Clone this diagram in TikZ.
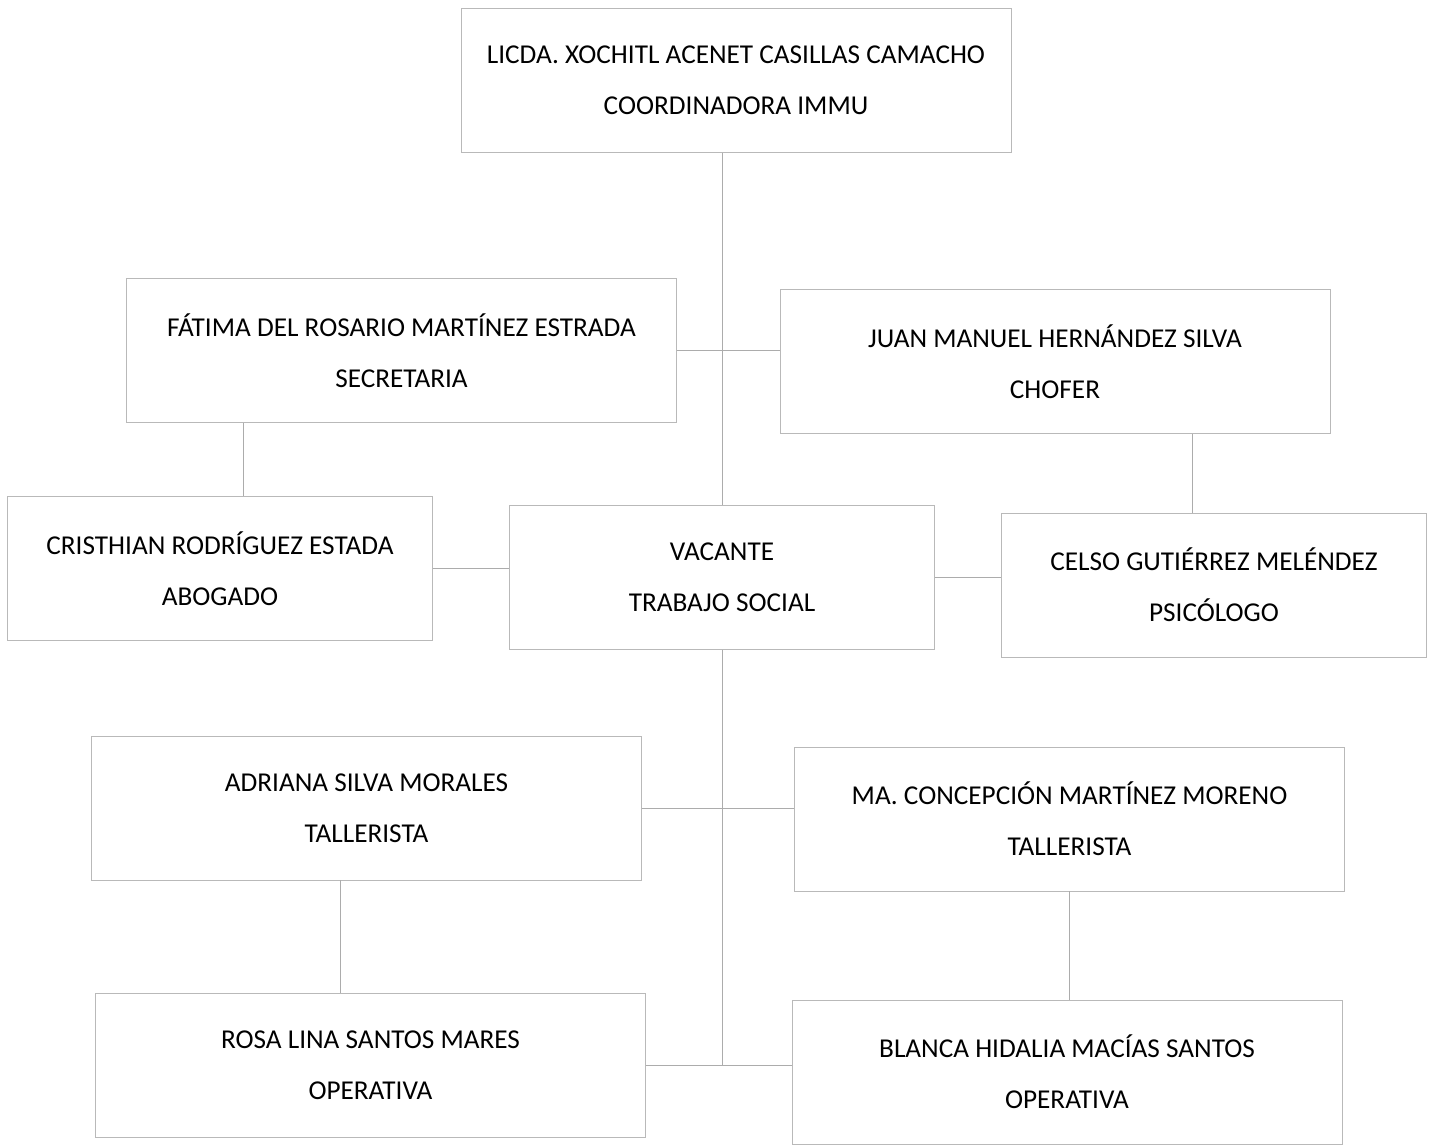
\documentclass[tikz,border=0pt]{standalone}
\usepackage{fontspec}
\setmainfont{Carlito}
\usepackage{tikz}
\usetikzlibrary{positioning}

\begin{document}
\begin{tikzpicture}[
		box/.style={rectangle,draw=gray!55,line width=0.5pt,align=center,
			minimum height=2.88cm,font=\fontsize{15.5pt}{29pt}\selectfont},
		wide/.style={box,minimum width=11cm},
		narrow/.style={box,minimum width=8.5cm},
		link/.style={draw=gray!65,line width=0.5pt}]
			\useasboundingbox (0,0) rectangle (28.72,-22.92);

			% ---------------- Top ----------------
			\node[wide] (coord) at (14.72,-1.61) {LICDA. XOCHITL ACENET CASILLAS CAMACHO\\COORDINADORA IMMU};

			% ---------------- Second level ----------------
			\node[wide] (secre) at (8.03,-7.01) {FÁTIMA DEL ROSARIO MARTÍNEZ ESTRADA\\SECRETARIA};
			\node[wide] (chofer) at (21.1,-7.23) {JUAN MANUEL HERNÁNDEZ SILVA\\CHOFER};

			% ---------------- Third level ----------------
			\node[narrow] (abog) at (4.4,-11.37) {CRISTHIAN RODRÍGUEZ ESTADA\\ABOGADO};
			\node[narrow] (trab) at (14.44,-11.55) {VACANTE\\TRABAJO SOCIAL};
			\node[narrow] (psico) at (24.28,-11.7) {CELSO GUTIÉRREZ MELÉNDEZ\\PSICÓLOGO};

			% ---------------- Talleres ----------------
			\node[wide] (tall1) at (7.33,-16.16) {ADRIANA SILVA MORALES\\TALLERISTA};
			\node[wide] (tall2) at (21.39,-16.38) {MA. CONCEPCIÓN MARTÍNEZ MORENO\\TALLERISTA};

			% ---------------- Operativas ----------------
			\node[wide] (oper1) at (7.41,-21.3) {ROSA LINA SANTOS MARES\\OPERATIVA};
			\node[wide] (oper2) at (21.34,-21.44) {BLANCA HIDALIA MACÍAS SANTOS\\OPERATIVA};

			% Edges
			\draw[link] (coord.south -| trab.north) -- (trab.north);
			\draw[link] (secre.east) -- (secre.east -| chofer.west);
			\draw[link] ([xshift=0.46cm]abog.north |- secre.south) -- ([xshift=0.46cm]abog.north);
			\draw[link] ([xshift=-0.44cm]psico.north |- chofer.south) -- ([xshift=-0.44cm]psico.north);
			\draw[link] (abog.east) -- (abog.east -| trab.west);
			\draw[link] (trab.east) -- (trab.east -| psico.west);
			\draw[link] (trab.south) -- (trab.south |- oper1.east);
			\draw[link] (tall1.east) -- (tall1.east -| tall2.west);
			\draw[link] ([xshift=-0.52cm]tall1.south) -- ([xshift=-0.52cm]tall1.south |- oper1.north);
			\draw[link] (tall2.south) -- (tall2.south |- oper2.north);
			\draw[link] (oper1.east) -- (oper1.east -| oper2.west);
		\end{tikzpicture}
\end{document}
